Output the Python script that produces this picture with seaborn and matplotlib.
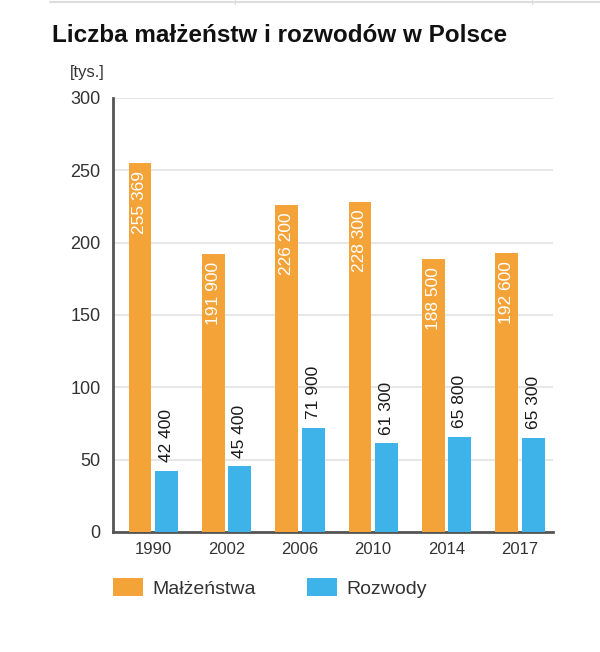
import matplotlib
matplotlib.use("Agg")
import matplotlib.pyplot as plt
from matplotlib.patches import Patch
from matplotlib.lines import Line2D
import seaborn as sns
import pandas as pd

years = ["1990", "2002", "2006", "2010", "2014", "2017"]
malzenstwa = [255369, 191900, 226200, 228300, 188500, 192600]
rozwody = [42400, 45400, 71900, 61300, 65800, 65300]
malz_labels = ["255 369", "191 900", "226 200", "228 300", "188 500", "192 600"]
rozw_labels = ["42 400", "45 400", "71 900", "61 300", "65 800", "65 300"]
series = ["Małżeństwa", "Rozwody"]
y_ticks = [0, 50, 100, 150, 200, 250, 300]

ORANGE = "#F4A338"
BLUE = "#3DB3E9"

sns.set_theme(style="white")
plt.rcParams['font.family'] = ['Liberation Sans', 'DejaVu Sans']

df = pd.DataFrame({
    "rok": years * 2,
    "seria": [series[0]] * len(years) + [series[1]] * len(years),
    "tys": [v / 1000 for v in malzenstwa] + [v / 1000 for v in rozwody],
})

fig = plt.figure(figsize=(6.0, 6.52), dpi=100)
ax = fig.add_axes([113 / 600, 1 - 532 / 652, 440 / 600, 434 / 652])

sns.barplot(data=df, x="rok", y="tys", hue="seria", order=years, hue_order=series,
            palette=[ORANGE, BLUE], width=0.72, gap=0.13, saturation=1,
            linewidth=0, legend=False, ax=ax, zorder=3)

ax.set_ylim(0, 300)
ax.set_xlim(-0.548, len(years) - 0.548)
ax.set_yticks(y_ticks)
ax.set_yticklabels([str(t) for t in y_ticks], fontsize=13, color="#333333")
ax.set_xticklabels(years, fontsize=12, color="#333333")
ax.tick_params(axis="y", length=0, pad=9)
ax.tick_params(axis="x", length=0, pad=7)
ax.set_xlabel("")
ax.set_ylabel("")
ax.yaxis.grid(True, color="#E3E3E3", linewidth=1.2, zorder=0)
ax.xaxis.grid(False)
for s in ["top", "right"]:
    ax.spines[s].set_visible(False)
for s in ["left", "bottom"]:
    ax.spines[s].set_color("#555555")
    ax.spines[s].set_linewidth(2)

# value labels
orange_bars = ax.containers[0]
blue_bars = ax.containers[1]
for rect, lab in zip(orange_bars, malz_labels):
    x = rect.get_x() + rect.get_width() / 2
    ax.text(x, rect.get_height() - 5.5, lab, rotation=90, ha="center", va="top",
            color="white", fontsize=12.5, zorder=5)
for rect, lab in zip(blue_bars, rozw_labels):
    x = rect.get_x() + rect.get_width() / 2
    ax.text(x, rect.get_height() + 6, lab, rotation=90, ha="center", va="bottom",
            color="#1a1a1a", fontsize=12.5, zorder=5)

fig.text(52 / 600, 1 - 35 / 652, "Liczba małżeństw i rozwodów w Polsce",
         fontsize=17.5, fontweight="bold", color="#111111", ha="left", va="center")
fig.text(105 / 600, 1 - 73 / 652, "[tys.]", fontsize=12, color="#333333",
         ha="right", va="center")

# faint page border at the very top
fig.add_artist(Line2D([50 / 600, 1.0], [1 - 2 / 652, 1 - 2 / 652],
                      color="#DDDDDD", linewidth=1.5, transform=fig.transFigure))
for xp in (235, 532):
    fig.add_artist(Line2D([xp / 600, xp / 600], [1.0, 1 - 4 / 652],
                          color="#DDDDDD", linewidth=1, transform=fig.transFigure))

handles = [Patch(facecolor=ORANGE, edgecolor="none"), Patch(facecolor=BLUE, edgecolor="none")]
fig.legend(handles, series, loc="center left", bbox_to_anchor=(113 / 600, 1 - 588 / 652),
           ncol=2, frameon=False, fontsize=14, handlelength=1.55, handleheight=1.07,
           columnspacing=2.6, handletextpad=0.5, labelcolor="#333333",
           borderpad=0, borderaxespad=0)

fig.savefig("out.png", dpi=100, facecolor="white")
